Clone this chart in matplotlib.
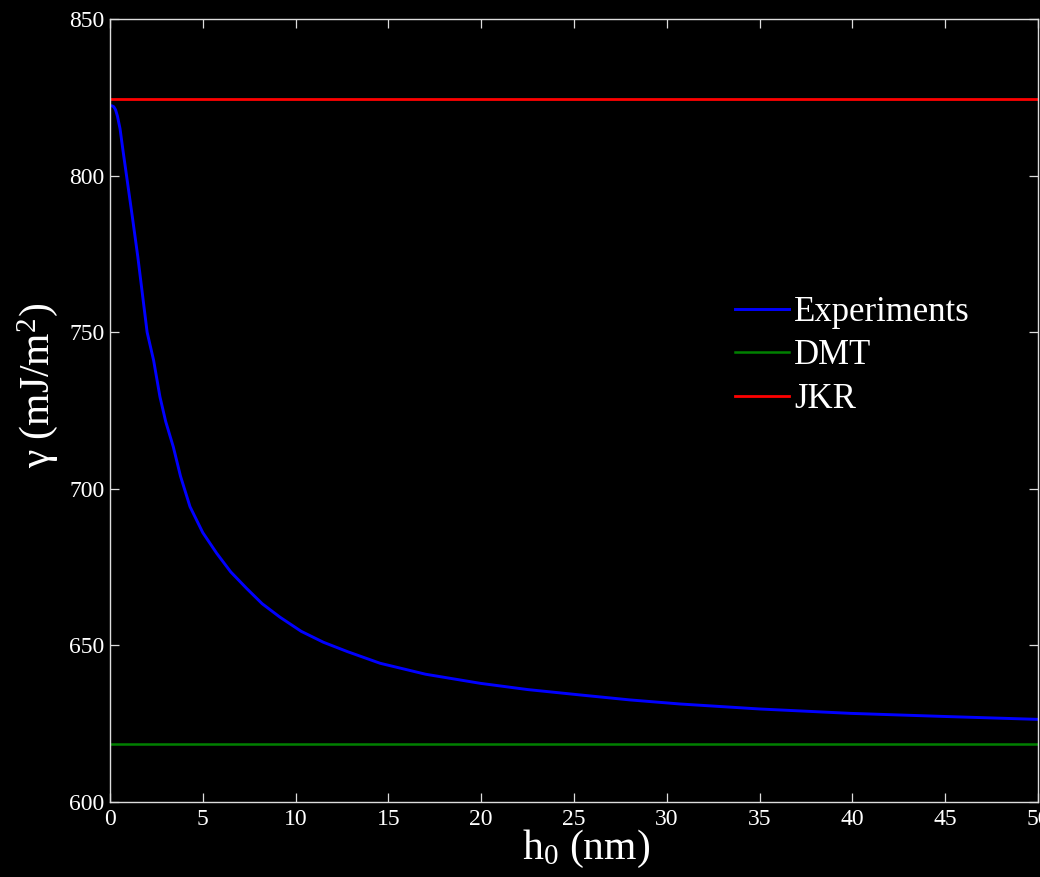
import matplotlib
matplotlib.use("Agg")
import matplotlib.pyplot as plt

# Data
h0 = [0.0, 0.1, 0.2, 0.3, 0.4, 0.54, 0.7, 0.89, 1.2, 1.5, 1.75, 2.0, 2.35,
      2.69, 3.0, 3.41, 3.8, 4.31, 5.0, 5.75, 6.5, 7.36, 8.2, 9.16, 10.3,
      11.5, 12.8, 14.55, 17.0, 19.94, 22.5, 25.3, 28.0, 30.7, 35.0, 39.9,
      45.0, 49.9, 50.0]
gamma_exp = [822.2, 822.3, 822.0, 821.0, 819.0, 815.0, 808.0, 800.0, 787.0,
             774.0, 762.0, 750.0, 741.0, 729.4, 721.5, 713.4, 704.0, 694.3,
             686.0, 679.4, 673.5, 668.2, 663.3, 659.0, 654.5, 651.0, 648.0,
             644.3, 640.8, 637.9, 635.9, 634.2, 632.6, 631.3, 629.7, 628.3,
             627.3, 626.4, 626.4]
gamma_dmt = 618.5
gamma_jkr = 824.5
x_range = [0, 50]
xticks = [0, 5, 10, 15, 20, 25, 30, 35, 40, 45, 50]
yticks = [600, 650, 700, 750, 800, 850]

plt.rcParams['font.family'] = ['Liberation Serif', 'DejaVu Serif']
plt.rcParams['mathtext.fontset'] = 'custom'
plt.rcParams['mathtext.rm'] = 'Liberation Serif'

fig = plt.figure(figsize=(10.4, 8.77), dpi=100, facecolor='black')
ax = fig.add_axes([110/1040, 75/877, 928/1040, 783/877], facecolor='black')

ax.plot(h0, gamma_exp, color='#0000ff', lw=2.1, label='Experiments')
ax.plot(x_range, [gamma_dmt, gamma_dmt], color='#008000', lw=1.8, label='DMT')
ax.plot(x_range, [gamma_jkr, gamma_jkr], color='#ff0000', lw=2.0, label='JKR')

ax.set_xlim(0, 50)
ax.set_ylim(600, 850)
ax.set_xticks(xticks)
ax.set_yticks(yticks)
ax.tick_params(axis='both', which='major', direction='in', length=6.5,
               width=0.9, color='#dddddd', labelcolor='white', labelsize=17,
               top=True, right=True)
ax.tick_params(axis='x', pad=5)
ax.tick_params(axis='y', pad=4)
for s in ax.spines.values():
    s.set_color('#dddddd')
    s.set_linewidth(1.0)

ax.set_xlabel(r'h$\mathregular{_0}$ (nm)', color='white', fontsize=30)
ax.set_ylabel(r'γ (mJ/m$\mathregular{^2}$)', color='white', fontsize=30)
ax.xaxis.set_label_coords((586 - 110) / 928, (802 - 828) / 783)
ax.yaxis.set_label_coords((60 - 110) / 928, (802 - 385) / 783)

leg = ax.legend(loc='center left', bbox_to_anchor=((735-110)/928, (802-356)/783),
                frameon=False, fontsize=25, handlelength=1.55, handletextpad=0.15,
                labelspacing=0.3, borderpad=0, borderaxespad=0)
for t in leg.get_texts():
    t.set_color('white')

fig.savefig('out.png', dpi=100, facecolor='black')
